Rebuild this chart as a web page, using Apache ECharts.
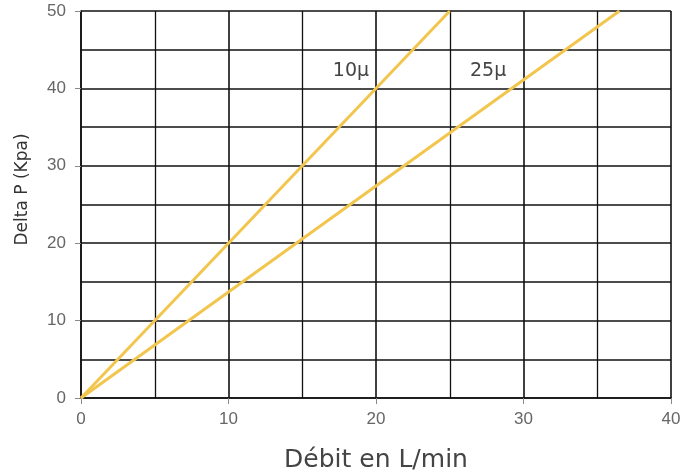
<!DOCTYPE html>
<html><head><meta charset="utf-8">
<script src="https://cdn.jsdelivr.net/npm/echarts@6/dist/echarts.min.js"></script>
<style>html,body{margin:0;padding:0;background:#fff}#c{width:692px;height:476px}</style>
</head><body><div id="c"></div>
<script>
const xTicks = [0, 10, 20, 30, 40];
const yTicks = [0, 10, 20, 30, 40, 50];
const series10 = [[0, 0], [25, 50]];
const series25 = [[0, 0], [36.5, 50]];
const labels = [{name: '10μ', coord: [18.3, 42.3]}, {name: '25μ', coord: [27.6, 42.3]}];

const chart = echarts.init(document.getElementById('c'));
const grid = {left: 81, right: 21, top: 11, bottom: 78, containLabel: false, outerBoundsMode: 'none'};
const lineColor = '#f2c64e';
chart.setOption({
  animation: false,
  grid: grid,
  xAxis: {
    type: 'value', min: xTicks[0], max: xTicks[xTicks.length-1], interval: 10,
    name: 'Débit en L/min', nameLocation: 'middle', nameGap: 50,
    nameTextStyle: {fontSize: 25, color: '#444', fontFamily: 'DejaVu Sans'},
    axisLine: {show: true, lineStyle: {color: '#111', width: 1.5}},
    axisTick: {show: true, length: 6, lineStyle: {color: '#888'}},
    axisLabel: {color: '#666', fontSize: 17, margin: 13, fontFamily: 'Liberation Sans'},
    splitLine: {show: true, lineStyle: {color: '#111', width: 1.6}},
    minorTick: {show: true, splitNumber: 2, length: 0},
    minorSplitLine: {show: true, lineStyle: {color: '#111', width: 1.3}}
  },
  yAxis: {
    type: 'value', min: yTicks[0], max: yTicks[yTicks.length-1], interval: 10,
    name: 'Delta P (Kpa)', nameLocation: 'middle', nameGap: 50, nameRotate: 90,
    nameTextStyle: {fontSize: 17, color: '#333', fontFamily: 'DejaVu Sans', padding: [0, 0, 0, 30]},
    axisLine: {show: true, lineStyle: {color: '#111', width: 1.5}},
    axisTick: {show: true, length: 6, lineStyle: {color: '#888'}},
    axisLabel: {color: '#666', fontSize: 17, margin: 15, fontFamily: 'Liberation Sans'},
    splitLine: {show: true, lineStyle: {color: '#111', width: 1.6}},
    minorTick: {show: true, splitNumber: 2, length: 0},
    minorSplitLine: {show: true, lineStyle: {color: '#111', width: 1.6}}
  },
  series: [
    {type: 'line', data: series10, symbol: 'none', lineStyle: {color: lineColor, width: 3}, z: 5,
     markPoint: {symbol: 'circle', symbolSize: 0, silent: true,
       label: {show: true, formatter: p => p.name, color: '#444', fontSize: 19, fontFamily: 'DejaVu Sans'},
       data: labels}},
    {type: 'line', data: series25, symbol: 'none', lineStyle: {color: lineColor, width: 3}, z: 5}
  ]
});
</script></body></html>
